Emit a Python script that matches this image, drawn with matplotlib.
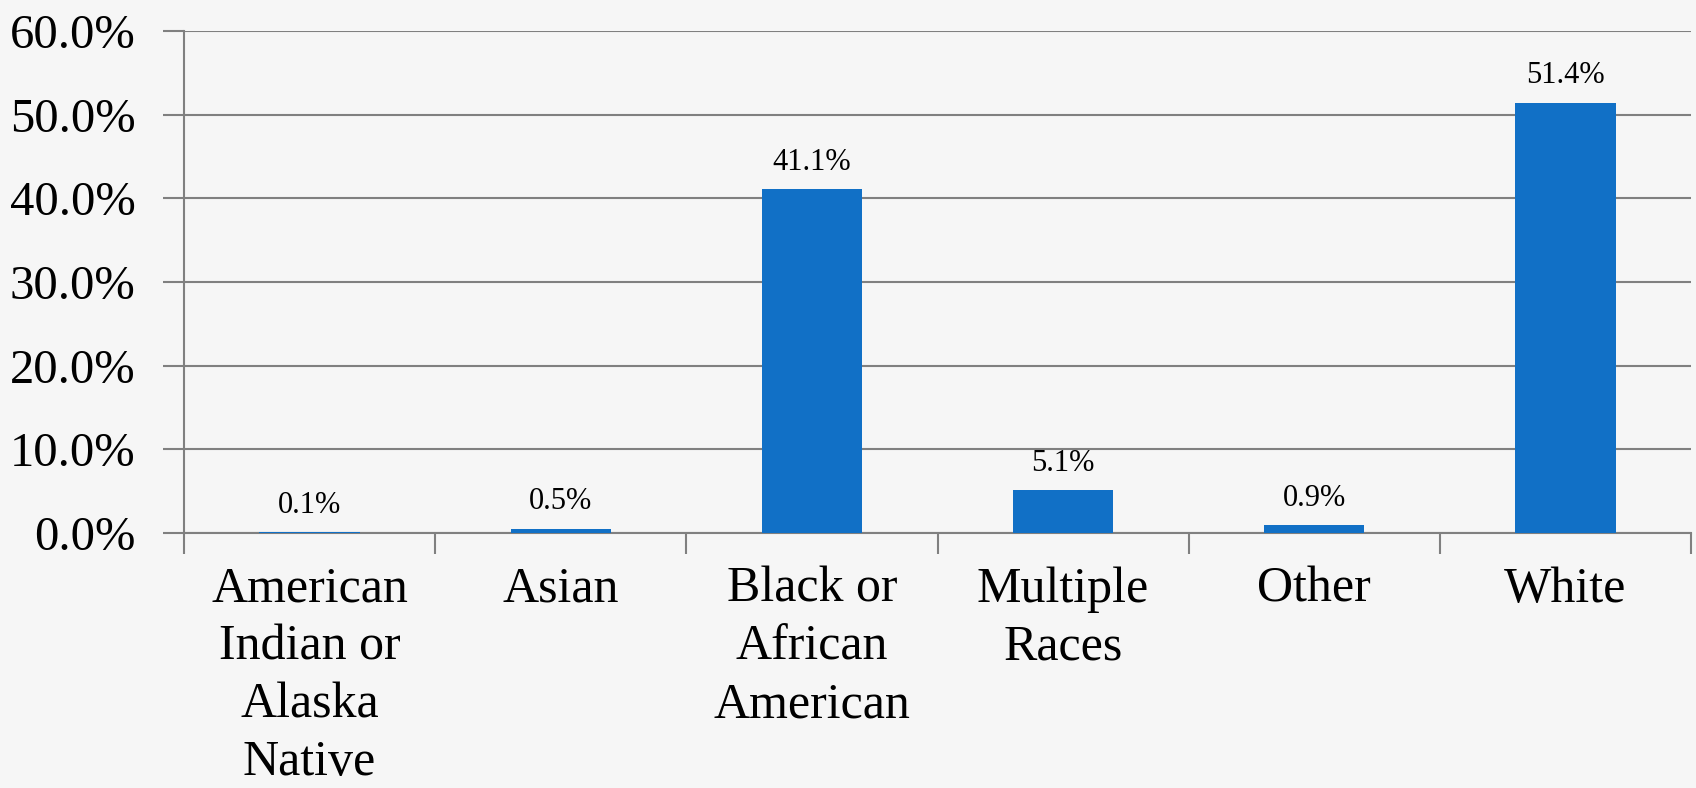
import matplotlib
matplotlib.use("Agg")
import matplotlib.pyplot as plt
import numpy as np

categories = ["American\nIndian or\nAlaska\nNative", "Asian", "Black or\nAfrican\nAmerican",
              "Multiple\nRaces", "Other", "White"]
values = [0.1, 0.5, 41.1, 5.1, 0.9, 51.4]
y_ticks = [0, 10, 20, 30, 40, 50, 60]

plt.rcParams["font.family"] = ["Liberation Serif", "DejaVu Serif"]

bg = "#F6F6F6"
bar_color = "#1170C6"
grid_color = "#808080"

fig = plt.figure(figsize=(16.96, 7.88), dpi=100, facecolor=bg)
ax = fig.add_axes([184 / 1696, 1 - 533 / 788, (1691 - 184) / 1696, (533 - 31) / 788])
ax.set_facecolor(bg)

x = np.arange(len(categories))
ax.bar(x, values, width=0.4, color=bar_color, zorder=3)

for xi, v in zip(x, values):
    ax.annotate(f"{v:.1f}%", (xi, v), xytext=(0, 9), textcoords="offset points",
                ha="center", va="bottom", fontsize=22, color="black", zorder=4)

ax.set_xlim(-0.5, len(categories) - 0.5)
ax.set_ylim(0, 60)
ax.set_yticks(y_ticks)
ax.set_yticklabels([f"{t:.1f}%" for t in y_ticks], fontsize=35)
ax.yaxis.grid(True, color=grid_color, linewidth=1.5, zorder=0)
ax.tick_params(axis="y", length=15, width=1.5, color=grid_color, pad=20)

ax.set_xticks(np.arange(-0.5, len(categories), 1.0))
ax.set_xticklabels([])
ax.set_xticks(x, minor=True)
ax.set_xticklabels(categories, minor=True, fontsize=36, linespacing=1.32)
ax.tick_params(axis="x", which="major", length=15, width=1.5, color=grid_color)
ax.tick_params(axis="x", which="minor", length=0, pad=24)

for side in ["top", "right"]:
    ax.spines[side].set_visible(False)
for side in ["left", "bottom"]:
    ax.spines[side].set_color(grid_color)
    ax.spines[side].set_linewidth(1.5)

fig.savefig("out.png", dpi=100, facecolor=bg)
